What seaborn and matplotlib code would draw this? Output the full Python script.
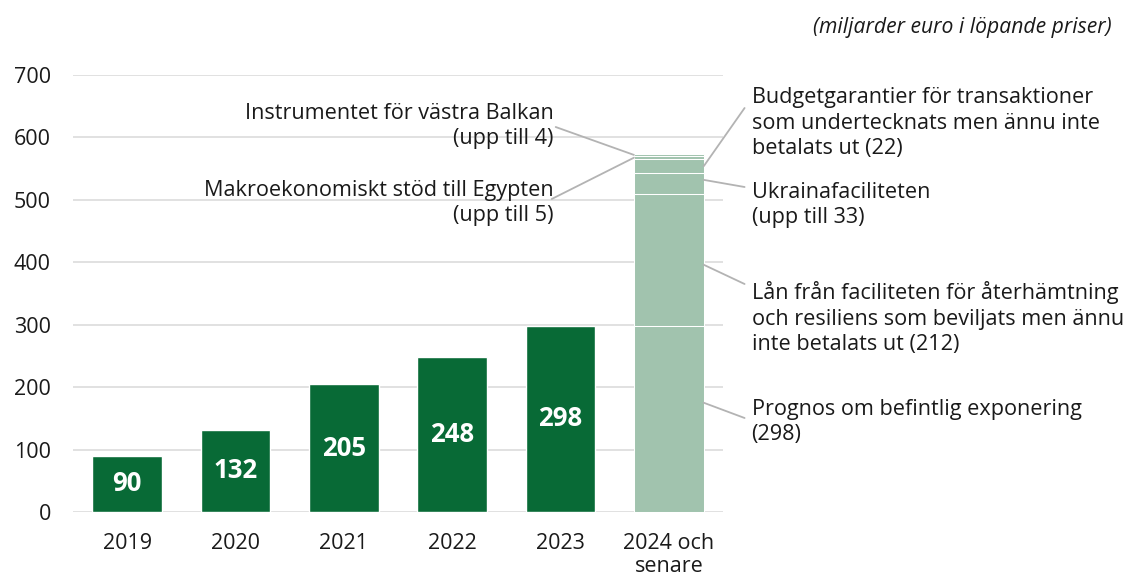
import numpy as np
import pandas as pd
import matplotlib
matplotlib.use("Agg")
import matplotlib.pyplot as plt
import seaborn as sns

# data
years = ["2019", "2020", "2021", "2022", "2023", "2024 och\nsenare"]
exposure = [90, 132, 205, 248, 298]
future_parts = [298, 212, 33, 22, 5, 4]
future_names = ["Prognos om befintlig exponering\n(298)",
                "Lån från faciliteten för återhämtning\noch resiliens som beviljats men ännu\ninte betalats ut (212)",
                "Ukrainafaciliteten\n(upp till 33)",
                "Budgetgarantier för transaktioner\nsom undertecknats men ännu inte\nbetalats ut (22)",
                "Makroekonomiskt stöd till Egypten\n(upp till 5)",
                "Instrumentet för västra Balkan\n(upp till 4)"]

dark = "#086a36"
light = "#a1c3ae"

sns.set_style("white")
plt.rcParams['font.family'] = ['Open Sans', 'DejaVu Sans']

fig = plt.figure(figsize=(11.26, 5.8), dpi=100)
ax = fig.add_axes([73 / 1126, 1 - 512 / 580, 650 / 1126, 437 / 580])

df = pd.DataFrame({"year": years[:5], "value": exposure})
sns.barplot(data=df, x="year", y="value", order=years, color=dark,
            width=0.645, saturation=1, ax=ax, zorder=3)

# stacked last bar: draw cumulative totals from the top down
tops = np.cumsum(future_parts)
for t in tops[::-1]:
    d = pd.DataFrame({"year": [years[5]], "value": [t]})
    sns.barplot(data=d, x="year", y="value", order=years, color=light,
                width=0.645, saturation=1, ax=ax, zorder=3,
                edgecolor="white", linewidth=0.75)

# value labels
for i, v in enumerate(exposure):
    ax.text(i, v / 2, str(v), ha="center", va="center", color="white",
            fontsize=18.5, fontweight="bold", zorder=5)

ax.set_ylim(0, 700)
ax.set_xlim(-0.5, 5.5)
ax.set_yticks(range(0, 701, 100))
ax.yaxis.grid(True, color="#d9d9d9", linewidth=1.1, zorder=0)
ax.set_axisbelow(True)
for s in ax.spines.values():
    s.set_visible(False)
ax.set_xlabel("")
ax.set_ylabel("")
ax.tick_params(axis="both", length=0, labelsize=15.5, colors="#1a1a1a")
ax.tick_params(axis="y", pad=16)
ax.tick_params(axis="x", pad=15)
for lab in ax.get_xticklabels():
    lab.set_linespacing(1.15)

# annotations
def px(x, y):
    return ((x - 73) / 108.4 - 0.5, (512 - y) / 0.6243)

lc = "#b3b3b3"
fs = 15.6
# right side: part index, text centre (px), line start (px), bar point (data y)
right = [(0, (752, 422), (745, 418), 175), (1, (752, 318), (745, 284), 396),
         (2, (752, 205), (745, 187), 532), (3, (752, 123), (745, 108), 554)]
for idx, tpos, lstart, ybar in right:
    ax.annotate("", xy=(5 + 0.645 / 2, ybar),
                xytext=px(*lstart), arrowprops=dict(arrowstyle="-", color=lc, lw=1.3,
                                                   shrinkA=0, shrinkB=0),
                annotation_clip=False)
    ax.text(*px(*tpos), future_names[idx], ha="left", va="center",
            fontsize=fs, color="#1a1a1a", linespacing=1.28)

mids = tops - np.array(future_parts) / 2
left = [(4, (556, 203), (552, 199)), (5, (556, 126), (556, 127))]
for idx, tpos, lstart in left:
    ax.annotate("", xy=(5 - 0.645 / 2, mids[idx]),
                xytext=px(*lstart), arrowprops=dict(arrowstyle="-", color=lc, lw=1.3,
                                                   shrinkA=0, shrinkB=0),
                annotation_clip=False)
    ax.text(*px(tpos[0] - 2, tpos[1]), future_names[idx], ha="right", va="center",
            fontsize=fs, color="#1a1a1a", linespacing=1.28)

fig.text(1112 / 1126, 1 - 27 / 580, "(miljarder euro i löpande priser)",
         ha="right", va="center", fontsize=15.2, style="italic", color="#1a1a1a")

fig.savefig("out.png", dpi=100)
